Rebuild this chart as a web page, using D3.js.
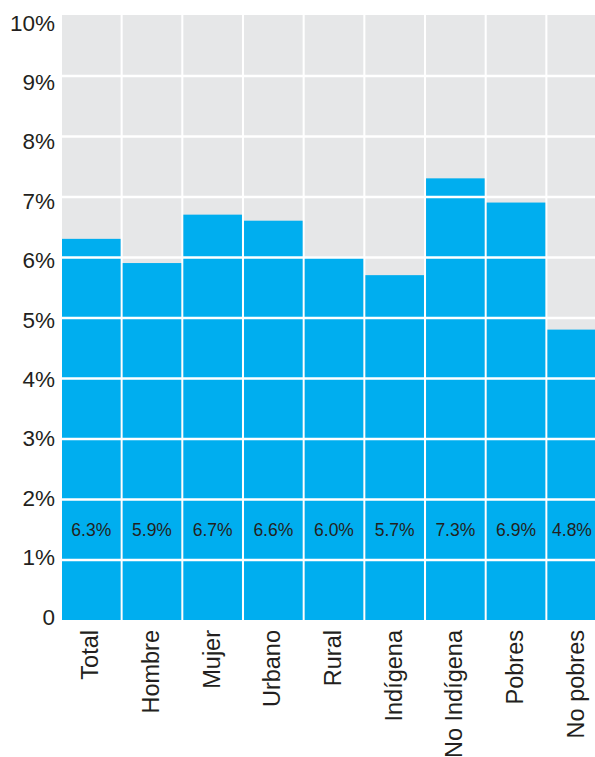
<!DOCTYPE html>
<html>
<head>
<meta charset="utf-8">
<script src="https://cdn.jsdelivr.net/npm/d3@7"></script>
<style>
  body { margin: 0; background: #fff; }
  svg text { font-family: "Liberation Sans", Arial, sans-serif; fill: #231f20; }
</style>
</head>
<body>
<div id="main"></div>
<script>
var categories = ["Total", "Hombre", "Mujer", "Urbano", "Rural", "Indígena", "No Indígena", "Pobres", "No pobres"];
var values = [6.3, 5.9, 6.7, 6.6, 6.0, 5.7, 7.3, 6.9, 4.8];
var yTicks = [0, 1, 2, 3, 4, 5, 6, 7, 8, 9, 10];

var canvas = d3.select("#main").append("svg")
  .attr("width", 595)
  .attr("height", 757);//create canvas

var xScale = d3.scaleBand()
  .domain(categories)
  .range([62, 606])
  .paddingInner(0.034)
  .paddingOuter(0);//band per group
var yScale = d3.scaleLinear()
  .domain([0, 10])
  .range([620, 15]);//percent scale
var labelScale = d3.scaleLinear()
  .domain([0, 10])
  .range([616, 22]);//tick labels sit a bit off the grid in the original

// gray columns
canvas.append("g").selectAll(".col").data(categories).enter().append("rect")
  .attr("class", "col")
  .attr("x", function(d) { return xScale(d); })
  .attr("y", yScale(10))
  .attr("width", xScale.bandwidth())
  .attr("height", yScale(0) - yScale(10))
  .attr("fill", "#e6e7e8");

// bars
canvas.append("g").selectAll(".bar").data(values).enter().append("rect")
  .attr("class", "bar")
  .attr("x", function(d, i) { return xScale(categories[i]); })
  .attr("y", function(d) { return yScale(d); })
  .attr("width", xScale.bandwidth())
  .attr("height", function(d) { return yScale(0) - yScale(d); })
  .attr("fill", "#00aeef");

// white horizontal grid over the bars
var grid = canvas.append("g")
  .attr("transform", "translate(62, 0)")
  .call(d3.axisLeft(yScale).tickValues(yTicks.slice(1, 10)).tickSize(-544).tickFormat(""));
grid.select(".domain").remove();
grid.selectAll("line").attr("stroke", "#fff").attr("stroke-width", 2.5);

// y labels
var yAxis = canvas.append("g")
  .attr("transform", "translate(58, 0)")
  .call(d3.axisLeft(labelScale).tickValues(yTicks).tickSize(0).tickPadding(3)
    .tickFormat(function(d) { return d === 0 ? "0" : d + "%"; }));
yAxis.select(".domain").remove();
yAxis.selectAll("text")
  .attr("font-size", 22.5)
  .attr("dy", "0.36em")
  .style("font-family", "'Liberation Sans', Arial, sans-serif")
  .attr("fill", "#231f20");

// value labels
canvas.append("g").selectAll(".val").data(values).enter().append("text")
  .attr("class", "val")
  .attr("x", function(d, i) { return Math.min(xScale(categories[i]) + xScale.bandwidth() / 2, 572); })
  .attr("y", yScale(1.5))
  .attr("dy", "0.36em")
  .attr("text-anchor", "middle")
  .attr("font-size", 17.5)
  .text(function(d) { return d.toFixed(1) + "%"; });

// category labels
canvas.append("g").selectAll(".cat").data(categories).enter().append("text")
  .attr("class", "cat")
  .attr("transform", function(d) { return "translate(" + (xScale(d) + xScale.bandwidth() / 2 + 7) + ", 630) rotate(-90)"; })
  .attr("text-anchor", "end")
  .attr("font-size", 23.5)
  .text(function(d) { return d; });
</script>
</body>
</html>
